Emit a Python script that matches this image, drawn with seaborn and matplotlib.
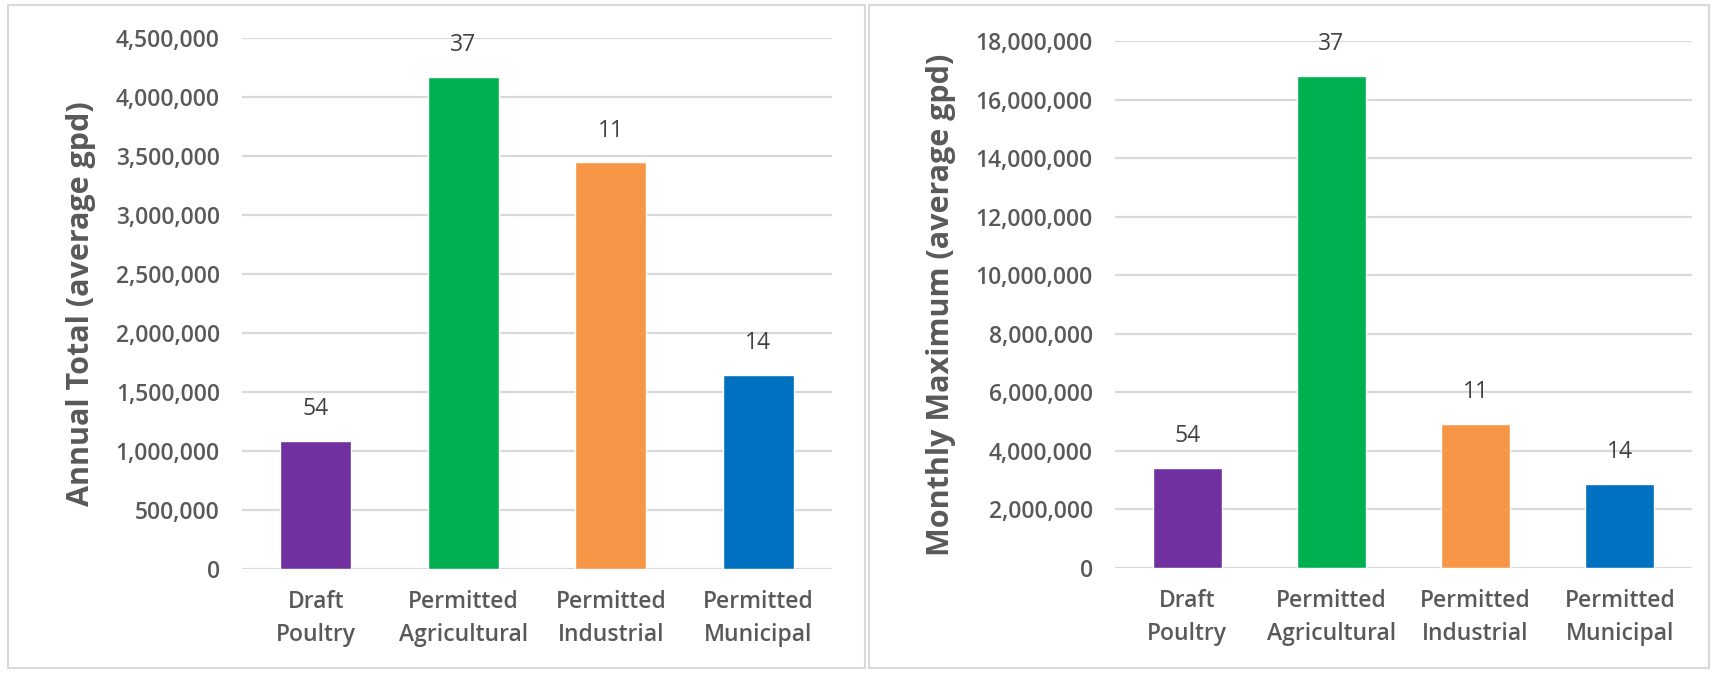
import matplotlib
matplotlib.use("Agg")
import matplotlib.pyplot as plt
from matplotlib.patches import Rectangle
from matplotlib.ticker import FuncFormatter, MultipleLocator
import seaborn as sns
import pandas as pd

# Data
categories = ["Draft\nPoultry", "Permitted\nAgricultural", "Permitted\nIndustrial", "Permitted\nMunicipal"]
annual_total = [1085000, 4170000, 3445000, 1642000]
monthly_max = [3430000, 16800000, 4920000, 2880000]
facility_counts = [54, 37, 11, 14]
bar_colors = ["#7030A0", "#00B050", "#F79646", "#0070C0"]

sns.set_theme(style="white")
plt.rcParams["font.family"] = ["Open Sans", "DejaVu Sans"]

W, H = 1713, 673
fig = plt.figure(figsize=(W / 100, H / 100), dpi=100)
fig.patch.set_facecolor("white")

TEXT = "#595959"


def px_axes(x0, y0, x1, y1):
    return fig.add_axes([x0 / W, 1 - y1 / H, (x1 - x0) / W, (y1 - y0) / H])


def draw_panel(ax, values, ylabel, ymax, step):
    df = pd.DataFrame({"category": categories, "value": values})
    sns.barplot(data=df, x="category", y="value", hue="category",
                palette=bar_colors, legend=False, width=0.48,
                saturation=1, ax=ax)
    ax.set_ylim(0, ymax)
    ax.set_xlim(-0.5, len(categories) - 0.5)
    ax.yaxis.set_major_locator(MultipleLocator(step))
    ax.yaxis.set_major_formatter(FuncFormatter(lambda v, p: f"{int(v):,}"))
    ax.grid(axis="y", color="#d9d9d9", linewidth=1.6)
    ax.set_axisbelow(True)
    for s in ax.spines.values():
        s.set_visible(False)
    ax.tick_params(axis="both", length=0, labelsize=16.5, colors=TEXT)
    ax.tick_params(axis="y", pad=16)
    ax.tick_params(axis="x", pad=15)
    for lbl in ax.get_yticklabels():
        lbl.set_fontweight("semibold")
    for lbl in ax.get_xticklabels():
        lbl.set_fontweight("semibold")
        lbl.set_linespacing(1.5)
    ax.set_xlabel("")
    ax.set_ylabel(ylabel, fontsize=22, fontweight="bold", color=TEXT, labelpad=14)
    for i, (v, n) in enumerate(zip(values, facility_counts)):
        ax.annotate(str(n), xy=(i, v), xytext=(0, 23), textcoords="offset points",
                    ha="center", va="center", fontsize=16.5, color="#404040")


ax1 = px_axes(242, 38, 832, 569)
draw_panel(ax1, annual_total, "Annual Total (average gpd)", 4500000, 500000)

ax2 = px_axes(1115, 41, 1692, 568)
draw_panel(ax2, monthly_max, "Monthly Maximum (average gpd)", 18000000, 2000000)

# Panel frames
for x0, x1 in [(8, 865), (869, 1709)]:
    fig.patches.append(Rectangle((x0 / W, 1 - 668 / H), (x1 - x0) / W, (668 - 5) / H,
                                 transform=fig.transFigure, fill=False,
                                 edgecolor="#d9d9d9", linewidth=1.5))

fig.savefig("out.png", dpi=100, facecolor="white")
